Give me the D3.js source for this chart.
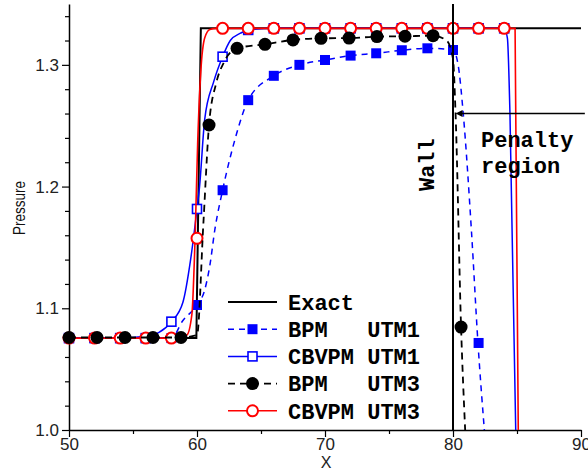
<!DOCTYPE html>
<html>
<head>
<meta charset="utf-8">
<script src="https://cdn.jsdelivr.net/npm/d3@7"></script>
<style>
  body { margin: 0; background: #fff; }
  svg { display: block; }
</style>
</head>
<body>
<svg id="chart"></svg>
<script>
// Exact solution (step)
const exactX = [50, 59.95, 60.3, 90];
const exactP = [1.0755, 1.0755, 1.33, 1.33];

// BPM UTM1 : blue dashed, filled squares
const bpm1MarkX = [50, 52, 54, 56, 58, 60, 62, 64, 66, 68, 70, 72, 74, 76, 78, 80, 82];
const bpm1MarkP = [1.0755, 1.0755, 1.0755, 1.0755, 1.0755, 1.1027, 1.197, 1.271, 1.291, 1.300, 1.304, 1.3076, 1.3095, 1.312, 1.3136, 1.3122, 1.0715];
const bpm1LineX = [50, 52, 54, 56, 58, 58.9, 60, 60.6, 61.0, 61.4, 62, 63, 64, 66, 68, 70, 72, 74, 76, 78, 80, 80.4, 80.8, 81.45, 81.95, 82.45];
const bpm1LineP = [1.0755, 1.0755, 1.0755, 1.0755, 1.0755, 1.09, 1.1027, 1.115, 1.135, 1.165, 1.197, 1.24, 1.271, 1.291, 1.300, 1.304, 1.3076, 1.3095, 1.312, 1.3136, 1.3122, 1.30, 1.26, 1.162, 1.0715, 1.0];

// CBVPM UTM1 : blue solid, open squares
const cbv1MarkX = [50, 52, 54, 56, 58, 60, 62, 64, 66, 68, 70, 72, 74, 76, 78, 80, 82, 84];
const cbv1MarkP = [1.0755, 1.0755, 1.0755, 1.0755, 1.089, 1.1816, 1.3067, 1.3287, 1.33, 1.33, 1.33, 1.33, 1.33, 1.33, 1.33, 1.33, 1.33, 1.33];
const cbv1LineX = [50, 52, 54, 56, 57, 58, 58.9, 59.5, 60, 60.2, 60.6, 61.3, 62, 62.6, 63.4, 64, 66, 70, 74, 78, 82, 84, 84.25, 84.45, 84.9];
const cbv1LineP = [1.0755, 1.0755, 1.0755, 1.077, 1.08, 1.089, 1.105, 1.14, 1.1816, 1.2, 1.255, 1.286, 1.3067, 1.320, 1.326, 1.3287, 1.33, 1.33, 1.33, 1.33, 1.33, 1.33, 1.322, 1.26, 1.0];

// BPM UTM3 : black dashed, filled circles
const bpm3MarkX = [50, 52.19, 54.38, 56.56, 58.75, 60.94, 63.13, 65.31, 67.5, 69.69, 71.88, 74.06, 76.25, 78.44, 80.63];
const bpm3MarkP = [1.076, 1.076, 1.076, 1.076, 1.076, 1.2506, 1.3136, 1.3169, 1.3205, 1.3218, 1.322, 1.3232, 1.3235, 1.324, 1.0846];
const bpm3LineX = [50, 52.19, 54.38, 56.56, 58.75, 60.0, 60.5, 60.94, 61.5, 62.1, 63.13, 65.31, 67.5, 69.69, 71.88, 74.06, 76.25, 78.44, 79.5, 80.0, 80.2, 80.63, 80.95];
const bpm3LineP = [1.076, 1.076, 1.076, 1.076, 1.076, 1.078, 1.17, 1.2506, 1.285, 1.302, 1.3136, 1.3169, 1.3205, 1.3218, 1.322, 1.3232, 1.3235, 1.324, 1.32, 1.305, 1.26, 1.0846, 1.0];

// CBVPM UTM3 : red solid, open circles
const cbv3MarkX = [50, 52, 54, 56, 58, 60, 62, 64, 66, 68, 70, 72, 74, 76, 78, 80, 82, 84];
const cbv3MarkP = [1.0755, 1.0755, 1.0755, 1.0755, 1.0755, 1.1575, 1.33, 1.33, 1.33, 1.33, 1.33, 1.33, 1.33, 1.33, 1.33, 1.33, 1.33, 1.33];
const cbv3LineX = [50, 52, 54, 56, 58, 59.2, 59.6, 59.85, 60.05, 60.3, 60.6, 61.0, 61.5, 62, 66, 70, 74, 78, 82, 84, 84.85, 85.1];
const cbv3LineP = [1.0755, 1.0755, 1.0755, 1.0755, 1.0755, 1.078, 1.095, 1.1575, 1.235, 1.295, 1.322, 1.329, 1.33, 1.33, 1.33, 1.33, 1.33, 1.33, 1.33, 1.33, 1.33, 1.0];

// Annotations (data units)
const wallX = 80;
const penaltyP = 1.26;
const penaltyX = [80.2, 90.3];

// Axis ticks
const xMajor = [50, 60, 70, 80, 90];
const xMinor = [55, 65, 75, 85];
const yMajor = [1.0, 1.1, 1.2, 1.3];
const yMinor = [1.02, 1.04, 1.06, 1.08, 1.12, 1.14, 1.16, 1.18, 1.22, 1.24, 1.26, 1.28, 1.32, 1.34];

const legendLabels = ["Exact", "BPM   UTM1", "CBVPM UTM1", "BPM   UTM3", "CBVPM UTM3"];

const width = 588, height = 470;
const margin = { top: 4, right: 7, bottom: 40, left: 69 };

const svg = d3.select("#chart")
    .attr("width", width)
    .attr("height", height)
    .attr("viewBox", [0, 0, width, height]);

const x = d3.scaleLinear().domain([50, 90]).range([margin.left, width - margin.right]);
const y = d3.scaleLinear().domain([1.0, 1.35]).range([height - margin.bottom, margin.top]);

const sans = "'Liberation Sans', Arial, sans-serif";
const mono = "'Liberation Mono', 'Courier New', monospace";

// Axes
function styleAxis(g) {
    g.select(".domain").attr("stroke", "#000").attr("stroke-width", 1.5);
    g.selectAll(".tick line").attr("stroke", "#000").attr("stroke-width", 1.2);
    g.selectAll(".tick text").attr("fill", "#222").style("font", `17px ${sans}`);
}

svg.append("g")
    .attr("transform", `translate(0,${y(1.0)})`)
    .call(d3.axisBottom(x).tickValues(xMinor).tickSize(4).tickSizeOuter(0).tickFormat(""))
    .call(g => g.select(".domain").remove())
    .call(g => g.selectAll(".tick line").attr("stroke", "#000").attr("stroke-width", 1.2));
svg.append("g")
    .attr("transform", `translate(0,${y(1.0)})`)
    .call(d3.axisBottom(x).tickValues(xMajor).tickSize(7).tickSizeOuter(0).tickFormat(d3.format("d")))
    .call(styleAxis)
    .call(g => g.selectAll(".tick text").attr("y", 20).attr("dy", null));

svg.append("g")
    .attr("transform", `translate(${x(50)},0)`)
    .call(d3.axisLeft(y).tickValues(yMinor).tickSize(4).tickSizeOuter(0).tickFormat(""))
    .call(g => g.select(".domain").remove())
    .call(g => g.selectAll(".tick line").attr("stroke", "#000").attr("stroke-width", 1.2));
svg.append("g")
    .attr("transform", `translate(${x(50)},0)`)
    .call(d3.axisLeft(y).tickValues(yMajor).tickSize(7).tickSizeOuter(0).tickFormat(d3.format(".1f")))
    .call(styleAxis)
    .call(g => g.selectAll(".tick text").attr("x", -10));

svg.append("text")
    .attr("x", (x(50) + x(90)) / 2 + 1)
    .attr("y", 468)
    .attr("text-anchor", "middle")
    .style("font", `16px ${sans}`)
    .attr("fill", "#222")
    .text("X");

svg.append("text")
    .attr("transform", `translate(25,208) rotate(-90)`)
    .attr("text-anchor", "middle")
    .attr("textLength", 54)
    .attr("lengthAdjust", "spacingAndGlyphs")
    .style("font", `16px ${sans}`)
    .attr("fill", "#111")
    .text("Pressure");

// Series
const zip = (xs, ps) => xs.map((v, i) => [v, ps[i]]);
const line = d3.line().x(d => x(d[0])).y(d => y(d[1])).curve(d3.curveMonotoneX);
const straight = d3.line().x(d => x(d[0])).y(d => y(d[1]));

const series = [
    { lx: exactX, lp: exactP, color: "#000", width: 2, dash: null, shape: null, gen: straight },
    { lx: bpm1LineX, lp: bpm1LineP, mx: bpm1MarkX, mp: bpm1MarkP, color: "#0000ff", width: 1.5, dash: "6,5", shape: "fsquare", gen: line },
    { lx: cbv1LineX, lp: cbv1LineP, mx: cbv1MarkX, mp: cbv1MarkP, color: "#0000ff", width: 1.5, dash: null, shape: "osquare", gen: line },
    { lx: cbv3LineX, lp: cbv3LineP, mx: cbv3MarkX, mp: cbv3MarkP, color: "#ff0000", width: 1.6, dash: null, shape: "ocircle", gen: line },
    { lx: bpm3LineX, lp: bpm3LineP, mx: bpm3MarkX, mp: bpm3MarkP, color: "#000", width: 1.8, dash: "7,5", shape: "fcircle", gen: line }
];

function drawMarker(g, shape, color) {
    if (shape === "fsquare") {
        g.append("rect").attr("x", -5).attr("y", -5).attr("width", 10).attr("height", 10).attr("fill", color);
    } else if (shape === "osquare") {
        g.append("rect").attr("x", -4.5).attr("y", -4.5).attr("width", 9).attr("height", 9)
            .attr("fill", "#fff").attr("stroke", color).attr("stroke-width", 1.6);
    } else if (shape === "fcircle") {
        g.append("circle").attr("r", 6.5).attr("fill", color);
    } else if (shape === "ocircle") {
        g.append("circle").attr("r", 5.5).attr("fill", "#fff").attr("stroke", color).attr("stroke-width", 2);
    }
}

series.forEach(s => {
    svg.append("path")
        .attr("d", s.gen(zip(s.lx, s.lp)))
        .attr("fill", "none")
        .attr("stroke", s.color)
        .attr("stroke-width", s.width)
        .attr("stroke-dasharray", s.dash);
    if (s.shape) {
        svg.append("g").selectAll("g")
            .data(zip(s.mx, s.mp))
            .join("g")
            .attr("transform", d => `translate(${x(d[0])},${y(d[1])})`)
            .each(function() { drawMarker(d3.select(this), s.shape, s.color); });
    }
});

// Wall line
svg.append("line")
    .attr("x1", x(wallX)).attr("x2", x(wallX))
    .attr("y1", y(1.0)).attr("y2", y(1.35))
    .attr("stroke", "#000").attr("stroke-width", 2);

svg.append("text")
    .attr("transform", `translate(${x(wallX) - 19},${y(1.218)}) rotate(-90)`)
    .attr("text-anchor", "middle")
    .style("font", `bold 22px ${mono}`)
    .text("Wall");

// Penalty region arrow
svg.append("line")
    .attr("x1", x(penaltyX[0]) + 5).attr("x2", x(penaltyX[1]))
    .attr("y1", y(penaltyP)).attr("y2", y(penaltyP))
    .attr("stroke", "#000").attr("stroke-width", 1.5);
svg.append("path")
    .attr("d", `M${x(penaltyX[0])},${y(penaltyP)} l7,-3.5 v7 Z`)
    .attr("fill", "#000");

svg.append("text")
    .attr("x", x(wallX) + 28)
    .attr("y", y(penaltyP) + 33)
    .style("font", `bold 22px ${mono}`)
    .text("Penalty");
svg.append("text")
    .attr("x", x(wallX) + 28)
    .attr("y", y(penaltyP) + 59)
    .style("font", `bold 22px ${mono}`)
    .text("region");

// Legend
const legendOrder = [0, 1, 2, 4, 3];
const legend = svg.append("g").attr("transform", "translate(228,302)");
legendOrder.forEach((si, i) => {
    const s = series[si];
    const row = legend.append("g").attr("transform", `translate(0,${i * 27.2})`);
    row.append("line")
        .attr("x1", 0).attr("x2", 49)
        .attr("stroke", s.color)
        .attr("stroke-width", s.width)
        .attr("stroke-dasharray", s.dash);
    if (s.shape) drawMarker(row.append("g").attr("transform", "translate(24.5,0)"), s.shape, s.color);
    row.append("text")
        .attr("x", 60)
        .attr("dy", "0.35em")
        .attr("xml:space", "preserve")
        .style("white-space", "pre")
        .style("font", `bold 22px ${mono}`)
        .text(legendLabels[i]);
});
</script>
</body>
</html>
